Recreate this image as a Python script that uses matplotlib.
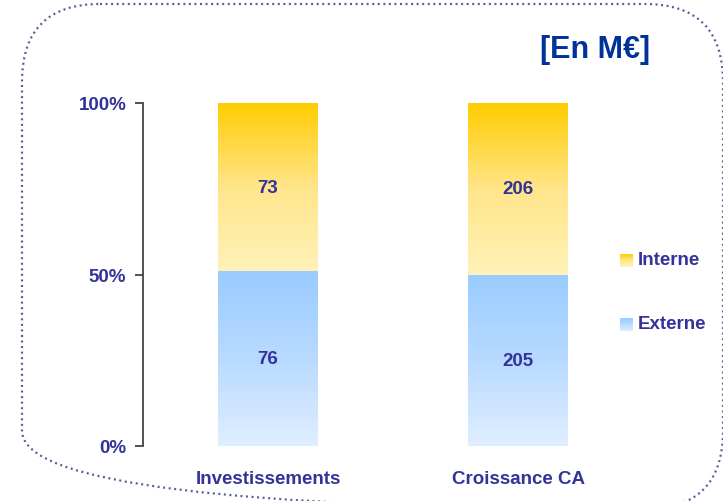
import numpy as np
import matplotlib
matplotlib.use("Agg")
import matplotlib.pyplot as plt
from matplotlib.patches import FancyBboxPatch, Rectangle
from matplotlib.colors import LinearSegmentedColormap

# ──────────────────────────────────────────────
# Data
# ──────────────────────────────────────────────
categories = ["Investissements", "Croissance CA"]
externe = [76, 205]
interne = [73, 206]
series_names = ["Interne", "Externe"]
yticks = [0, 50, 100]
ytick_labels = ["0%", "50%", "100%"]
title = "[En M€]"

TEXT = "#333399"
TITLE = "#003399"
FS = 13.5
plt.rcParams["font.family"] = ["Liberation Sans", "DejaVu Sans"]
plt.rcParams["font.weight"] = "bold"

cmap_int = LinearSegmentedColormap.from_list("int", ["#FFF2B8", "#FFE58A", "#FFCC00"])
cmap_ext = LinearSegmentedColormap.from_list("ext", ["#E0EFFF", "#B8DAFF", "#99CCFF"])
grad = np.linspace(0, 1, 256).reshape(-1, 1)


def gradient_rect(ax, x0, x1, y0, y1, cmap, **kw):
    im = ax.imshow(grad, cmap=cmap, origin="lower", aspect="auto",
                   extent=[x0, x1, y0, y1], interpolation="bicubic", **kw)
    clip = Rectangle((x0, y0), x1 - x0, y1 - y0, transform=ax.transData,
                     facecolor="none", edgecolor="none")
    ax.add_patch(clip)
    im.set_clip_path(clip)
    return im


W, H = 723, 502
fig = plt.figure(figsize=(W / 100, H / 100), dpi=100)

# background overlay in pixel coordinates (border, title, legend)
bg = fig.add_axes([0, 0, 1, 1], zorder=0)
bg.axis("off")
border = FancyBboxPatch((22, 5), 701, 505, boxstyle="round,pad=0,rounding_size=78",
                        facecolor="none", edgecolor="#5C5C99", linewidth=1.6,
                        linestyle=(0, (0.9, 1.6)), clip_on=False)
bg.add_patch(border)
bg.text(650, 50, title, ha="right", va="center", fontsize=22,
        color=TITLE, fontweight="bold")

# legend
leg_y = [261, 325]
leg_cmaps = [cmap_int, cmap_ext]
for name, ly, cm in zip(series_names, leg_y, leg_cmaps):
    bg.imshow(grad[::-1], cmap=cm, aspect="auto",
              extent=[620, 633, ly + 7, ly - 6], interpolation="bicubic")
    bg.text(638, ly, name, ha="left", va="center", fontsize=FS, color=TEXT,
            fontweight="bold")
bg.set_xlim(0, W)
bg.set_ylim(H, 0)

# main axes
ax = fig.add_axes([143 / W, (H - 447) / H, 480 / W, 343 / H], zorder=1)
ax.patch.set_alpha(0)
x = np.arange(len(categories))
width = 0.4
tot = np.array(externe) + np.array(interne)
ext_pct = np.array(externe) / tot * 100
int_pct = np.array(interne) / tot * 100

for xi, ep, ip, ev, iv in zip(x, ext_pct, int_pct, externe, interne):
    gradient_rect(ax, xi - width / 2, xi + width / 2, 0, ep, cmap_ext)
    gradient_rect(ax, xi - width / 2, xi + width / 2, ep, ep + ip, cmap_int)
    ax.text(xi, ep / 2, str(ev), ha="center", va="center", fontsize=FS,
            color=TEXT, fontweight="bold")
    ax.text(xi, ep + ip / 2, str(iv), ha="center", va="center", fontsize=FS,
            color=TEXT, fontweight="bold")

ax.set_xlim(-0.5, 1.42)
ax.set_ylim(0, 100)
ax.set_yticks(yticks)
ax.set_yticklabels(ytick_labels, fontsize=FS, color=TEXT, fontweight="bold")
ax.set_xticks(x)
ax.set_xticklabels(categories, fontsize=FS, color=TEXT, fontweight="bold")
ax.tick_params(axis="x", length=0, pad=17)
ax.tick_params(axis="y", direction="out", length=6, width=1.3, color="#444444", pad=6)
for s in ["top", "right", "bottom"]:
    ax.spines[s].set_visible(False)
ax.spines["left"].set_color("#444444")
ax.spines["left"].set_linewidth(1.3)

fig.savefig("out.png", dpi=100)
